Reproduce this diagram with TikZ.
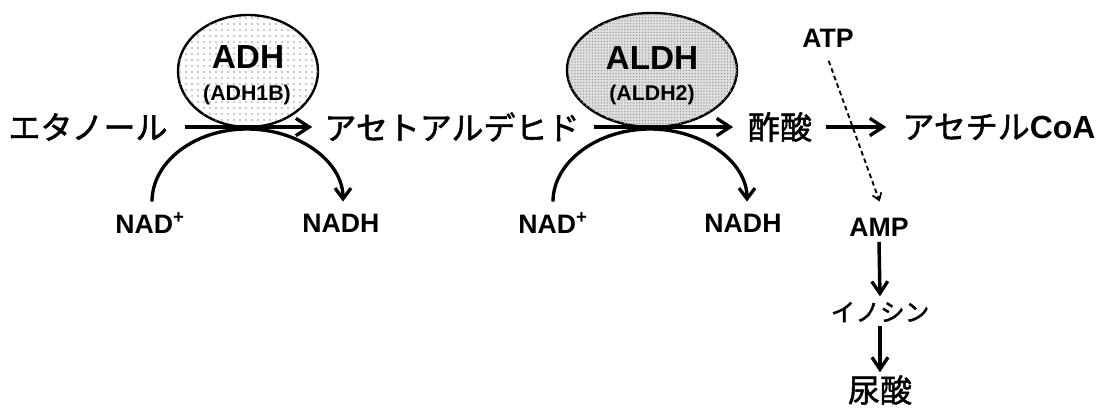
\documentclass[tikz,border=0pt]{standalone}
\usepackage{fontspec}
\setmainfont{Liberation Sans}
\newfontfamily\jp[FakeBold=1.6]{Noto Sans CJK JP}
\usetikzlibrary{arrows.meta,shapes.geometric,patterns.meta}

\tikzset{
  jptext/.style={inner sep=0pt, font=\jp\fontsize{24}{28}\selectfont},
  jpsmall/.style={inner sep=0pt, font=\jp\fontsize{18.5}{22}\selectfont},
  cofactor/.style={inner sep=0pt, font=\bfseries\fontsize{20}{24}\selectfont},
  enzyme/.style={ellipse, draw, line width=1.8pt, inner sep=0pt},
  enzname/.style={inner sep=0pt, font=\bfseries\fontsize{25}{30}\selectfont},
  isoname/.style={inner sep=0pt, font=\bfseries\fontsize{16}{19}\selectfont},
  reaction/.style={line width=2.5pt, -{Straight Barb[length=10pt,width=13pt,line width=2.5pt]}},
  vreaction/.style={line width=2.6pt, -{Straight Barb[length=9pt,width=12pt,line width=2.5pt]}},
  cofarc/.style={line width=2.5pt, -{Straight Barb[length=8pt,width=12pt,line width=2.5pt]}},
  sidearrow/.style={line width=1.4pt, dash pattern=on 3.5pt off 2.5pt,
    -{Straight Barb[length=5pt,width=7pt,line width=1.3pt]}},
}

\begin{document}
\begin{tikzpicture}[x=0.75pt, y=-0.75pt]
\useasboundingbox (0,0) rectangle (1111,408);

% enzymes
\node[enzyme, minimum width=105pt, minimum height=84pt,
      fill=white, postaction={pattern={Dots[distance=4.5pt,radius=0.6pt]}, pattern color=gray!85}]
      (adh) at (248,71) {};
\node[enzyme, minimum width=127.5pt, minimum height=85.5pt,
      fill=gray!25, postaction={pattern={Dots[distance=2.2pt,radius=0.55pt]}, pattern color=gray!80}]
      (aldh) at (652,70) {};
\node[enzname] (adhlbl)  at (248,57) {ADH};
\node[isoname] (adhiso)  at (247,95) {(ADH1B)};
\node[enzname] (aldhlbl) at (652,58) {ALDH};
\node[isoname] (aldhiso) at (652,95) {(ALDH2)};

% metabolites
\node[jptext] (eth)   at (88,127)  {エタノール};
\node[jptext] (acet)  at (452,127) {アセトアルデヒド};
\node[jptext] (aca)   at (780,127) {酢酸};
\node[jptext] (acoa)  at (999,127) {アセチル{\rmfamily\bfseries CoA}};

% cofactors
\node[cofactor] (nad1)  at (150,223) {NAD\textsuperscript{+}};
\node[cofactor] (nadh1) at (341,223) {NADH};
\node[cofactor] (nad2)  at (553,223) {NAD\textsuperscript{+}};
\node[cofactor] (nadh2) at (743,223) {NADH};
\node[cofactor] (atp)   at (828,38)  {ATP};
\node[cofactor] (amp)   at (879,227) {AMP};
\node[jpsmall]  (ino)   at (880,312) {イノシン};
\node[jptext]   (uric)  at (880,390) {尿酸};

% apex points of the cofactor arcs
\coordinate (ap1) at (247,129);
\coordinate (ap2) at (650,129);

% main reaction arrows
\draw[reaction, shorten <=13pt, shorten >=9pt] (eth) -- (acet);
\draw[reaction, shorten <=11pt, shorten >=11pt] (acet) -- (aca);
\draw[reaction, shorten <=10pt, shorten >=12pt] (aca) -- (acoa);

% NAD+ -> NADH arcs
\draw[cofarc] ([xshift=1.5pt,yshift=8pt]nad1.north) .. controls +(0,-40) and +(-52,0) .. (ap1)
      .. controls +(52,0) and +(0,-40) .. ([xshift=1.5pt,yshift=9pt]nadh1.north);
\draw[cofarc] ([yshift=8pt]nad2.north) .. controls +(0,-40) and +(-52,0) .. (ap2)
      .. controls +(52,0) and +(0,-40) .. ([xshift=3pt,yshift=9pt]nadh2.north);

% ATP -> AMP and purine degradation
\draw[sidearrow] ([xshift=0.5pt,yshift=-10pt]atp.south) -- ([xshift=0.5pt,yshift=12pt]amp.north);
\draw[vreaction] ([yshift=-4pt]amp.south) -- ([yshift=4pt]ino.north);
\draw[vreaction] ([yshift=-3pt]ino.south) -- ([yshift=2pt]uric.north);
\end{tikzpicture}
\end{document}
